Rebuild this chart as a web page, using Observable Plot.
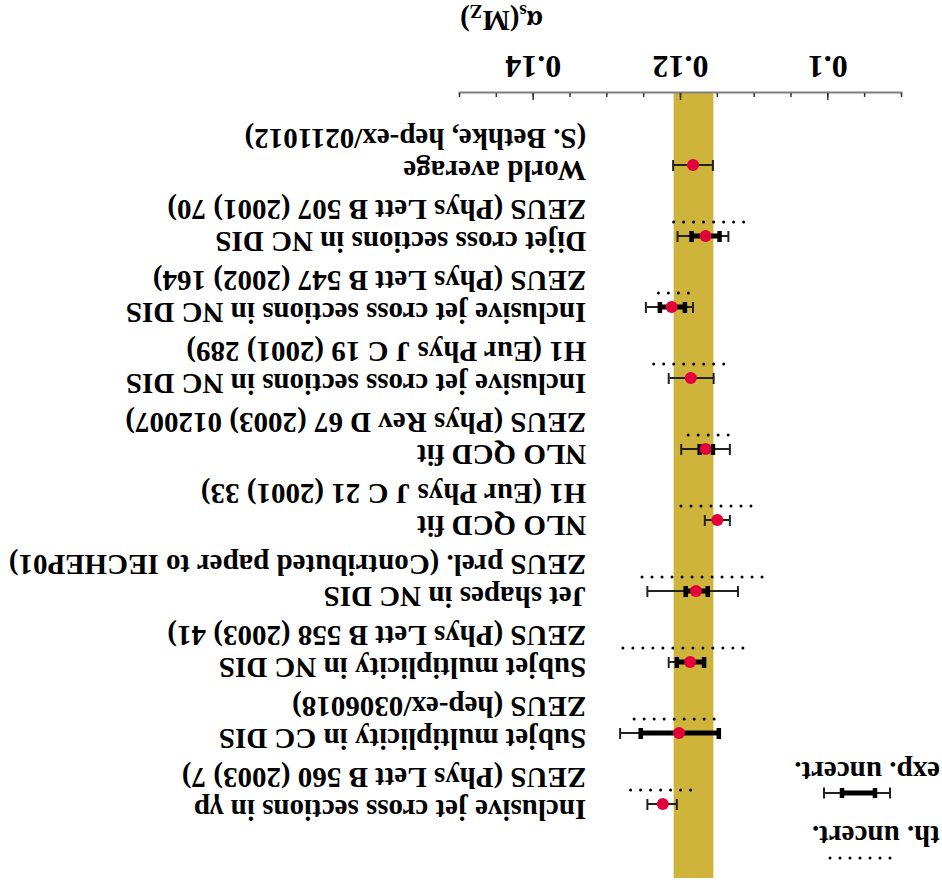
<!DOCTYPE html>
<html><head><meta charset="utf-8">
<script src="https://cdn.jsdelivr.net/npm/d3@7"></script>
<script src="https://cdn.jsdelivr.net/npm/@observablehq/plot@0.6"></script>
<style>
html,body{margin:0;padding:0;background:#fff;}
#chart{width:942px;height:887px;transform:rotate(180deg);transform-origin:50% 50%;}
#chart svg{display:block;}
</style></head><body><div id="chart"></div>
<script>
// ---- data ----
const ids = ["wa","dijet","zincl","h1incl","znlo","h1nlo","jetshape","subnc","subcc","gp"];
const descriptions = [
  "World average",
  "Dijet cross sections in NC DIS",
  "Inclusive jet cross sections in NC DIS",
  "Inclusive jet cross sections in NC DIS",
  "NLO QCD fit",
  "NLO QCD fit",
  "Jet shapes in NC DIS",
  "Subjet multiplicity in NC DIS",
  "Subjet multiplicity in CC DIS",
  "Inclusive jet cross sections in \u03B3p"
];
const references = [
  "(S. Bethke, hep-ex/0211012)",
  "ZEUS (Phys Lett B 507 (2001) 70)",
  "ZEUS (Phys Lett B 547 (2002) 164)",
  "H1 (Eur Phys J C 19 (2001) 289)",
  "ZEUS (Phys Rev D 67 (2003) 012007)",
  "H1 (Eur Phys J C 21 (2001) 33)",
  "ZEUS prel. (Contributed paper to IECHEP01)",
  "ZEUS (Phys Lett B 558 (2003) 41)",
  "ZEUS (hep-ex/0306018)",
  "ZEUS (Phys Lett B 560 (2003) 7)"
];
const alphaS   = [0.1183, 0.1166, 0.1212, 0.1186, 0.1166, 0.1150, 0.1179, 0.1187, 0.1202, 0.1224];
const expLow   = [0.1156, 0.1135, 0.1183, 0.1155, 0.1133, 0.1133, 0.1122, 0.1168, 0.1148, 0.1205];
const expHigh  = [0.1210, 0.1204, 0.1247, 0.1216, 0.1199, 0.1167, 0.1245, 0.1216, 0.1282, 0.1245];
const statLow  = [null,   0.1147, 0.1194, null,   0.1156, null,   0.1163, 0.1168, 0.1148, null];
const statHigh = [null,   0.1185, 0.1228, null,   0.1174, null,   0.1193, 0.1205, 0.1254, null];
const thLow    = [null,   0.1115, 0.1190, 0.1142, 0.1136, 0.1105, 0.1090, 0.1116, 0.1155, 0.1187];
const thHigh   = [null,   0.1210, 0.1231, 0.1236, 0.1190, 0.1200, 0.1253, 0.1279, 0.1264, 0.1269];
const majorTicks = [0.1, 0.12, 0.14];
const minorTicks = [0.09, 0.095, 0.1, 0.105, 0.11, 0.115, 0.12, 0.125, 0.13, 0.135, 0.14, 0.145, 0.15];
const xDomain = [0.09, 0.15];
const legendExp = "exp. uncert.";
const legendTh = "th. uncert.";

// ---- build table ----
const rows = ids.map((id, i) => ({
  id, desc: descriptions[i], ref: references[i], v: alphaS[i],
  eLo: expLow[i], eHi: expHigh[i], sLo: statLow[i], sHi: statHigh[i],
  tLo: thLow[i], tHi: thHigh[i]
}));
const band = [{lo: expLow[0], hi: expHigh[0]}];
const withStat = rows.filter(d => d.sLo != null);
const withTh = rows.filter(d => d.tLo != null);

const FONT = "Liberation Serif, Times New Roman, serif";
const labelX = 0.1328;

const plot = Plot.plot({
  width: 942, height: 887,
  marginLeft: 40, marginRight: 460, marginTop: 9, marginBottom: 93,
  style: {fontFamily: FONT, background: "white", overflow: "visible"},
  x: {domain: xDomain, axis: null},
  y: {type: "band", domain: ids.slice().reverse(), paddingInner: 0.85, paddingOuter: 0.925, axis: null},
  marks: [
    Plot.rect(band, {x1: "lo", x2: "hi", fill: "#cfb43b"}),
    Plot.frame({anchor: "bottom", stroke: "#808080", strokeWidth: 2}),
    Plot.axisX({ticks: minorTicks, tickSize: -4, fill: "none", stroke: "#333", strokeWidth: 1.5, label: null}),
    Plot.axisX({ticks: majorTicks, tickSize: -7, fill: "none", stroke: "#333", strokeWidth: 1.5, label: null}),
    Plot.axisX({ticks: majorTicks, tickSize: 0, tickPadding: 14, tickFormat: d => String(d),
      fontSize: 32, fontWeight: "bold", fill: "black", label: null}),
    // theory uncertainty (dotted)
    Plot.ruleY(withTh, {y: "id", x1: "tLo", x2: "tHi", dy: 14, stroke: "black", strokeWidth: 3,
      strokeLinecap: "round", strokeDasharray: "0 10", insetRight: -2}),
    // total experimental (thin)
    Plot.ruleY(rows, {y: "id", x1: "eLo", x2: "eHi", stroke: "#222", strokeWidth: 2}),
    Plot.tickX(rows, {y: "id", x: "eLo", stroke: "#222", strokeWidth: 2}),
    Plot.tickX(rows, {y: "id", x: "eHi", stroke: "#222", strokeWidth: 2}),
    // statistical (thick)
    Plot.ruleY(withStat, {y: "id", x1: "sLo", x2: "sHi", stroke: "black", strokeWidth: 5}),
    Plot.tickX(withStat, {y: "id", x: "sLo", stroke: "black", strokeWidth: 4.5}),
    Plot.tickX(withStat, {y: "id", x: "sHi", stroke: "black", strokeWidth: 4.5}),
    // central values
    Plot.dot(rows, {y: "id", x: "v", r: 6, fill: "#e4003a", stroke: null}),
    // labels
    Plot.text(rows, {y: "id", x: () => labelX, text: d => d.desc + "\n" + d.ref,
      textAnchor: "start", lineAnchor: "top", lineHeight: 1.086, dy: -18,
      fontSize: 29, fontWeight: "bold", fill: "black", clip: false})
  ]
});

const svg = d3.select(plot);
// axis label alpha_s(M_Z)
const lab = svg.append("text").attr("x", 482).attr("y", 876).attr("text-anchor", "end")
  .attr("font-family", FONT).attr("font-size", 29).attr("font-weight", "bold").attr("fill", "black");
lab.append("tspan").text("\u03B1");
lab.append("tspan").attr("font-size", 19).attr("dy", 6).text("s");
lab.append("tspan").attr("dy", -6).text("(M");
lab.append("tspan").attr("font-size", 19).attr("dy", 6).text("Z");
lab.append("tspan").attr("dy", -6).text(")");

// legend
const lg = svg.append("g").attr("font-family", FONT).attr("font-size", 29).attr("font-weight", "bold")
  .attr("fill", "black").attr("text-anchor", "start");
lg.append("line").attr("x1", 52).attr("x2", 114).attr("y1", 29).attr("y2", 29)
  .attr("stroke", "black").attr("stroke-width", 3).attr("stroke-linecap", "round").attr("stroke-dasharray", "0 10");
lg.append("text").attr("x", 2).attr("y", 61).text(legendTh);
lg.append("line").attr("x1", 52).attr("x2", 118).attr("y1", 94).attr("y2", 94).attr("stroke", "#222").attr("stroke-width", 2);
[52, 118].forEach(x => lg.append("line").attr("x1", x).attr("x2", x).attr("y1", 88.6).attr("y2", 99.4).attr("stroke", "#222").attr("stroke-width", 2));
lg.append("line").attr("x1", 67).attr("x2", 100).attr("y1", 94).attr("y2", 94).attr("stroke", "black").attr("stroke-width", 5);
[67, 100].forEach(x => lg.append("line").attr("x1", x).attr("x2", x).attr("y1", 89).attr("y2", 99).attr("stroke", "black").attr("stroke-width", 4.5));
lg.append("text").attr("x", 2).attr("y", 125).text(legendExp);

document.getElementById("chart").appendChild(plot);
</script></body></html>
